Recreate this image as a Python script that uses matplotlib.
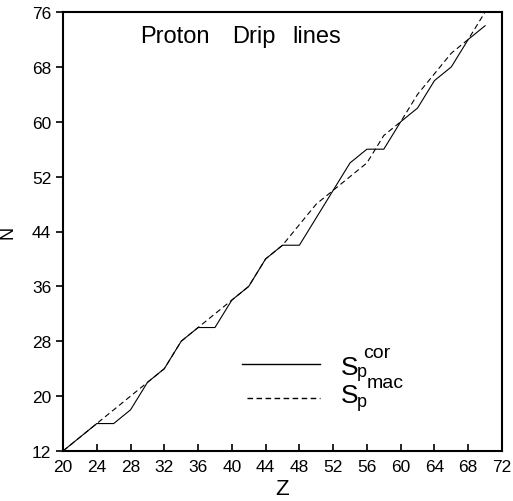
import matplotlib
matplotlib.use("Agg")
import matplotlib.pyplot as plt

# Data: proton drip lines (Z vs N)
z_cor = [20, 24, 26, 28, 30, 32, 34, 36, 38, 40, 42, 44, 46, 48, 54, 56, 58, 60, 62, 64, 66, 68, 70]
n_cor = [12, 16, 16, 18, 22, 24, 28, 30, 30, 34, 36, 40, 42, 42, 54, 56, 56, 60, 62, 66, 68, 72, 74]
z_mac = [20, 24, 30, 32, 34, 36, 40, 42, 44, 46, 48, 50, 56, 58, 60, 62, 66, 68, 70]
n_mac = [12, 16, 22, 24, 28, 30, 34, 36, 40, 42, 45, 48, 54, 58, 60, 64, 70, 72, 76]
x_ticks = list(range(20, 73, 4))
y_ticks = list(range(12, 77, 8))
title_words = ['Proton', 'Drip', 'lines']

plt.rcParams['font.family'] = ['Liberation Sans', 'DejaVu Sans']
plt.rcParams['lines.scale_dashes'] = False

W, H = 513, 502
fig = plt.figure(figsize=(W / 100, H / 100), dpi=100)
ax = fig.add_axes([63 / W, 1 - 452 / H, 439 / W, 439 / H])

ax.plot(z_cor, n_cor, color='black', lw=0.8, solid_joinstyle='miter')
ax.plot(z_mac, n_mac, color='black', lw=0.8, dashes=(4, 2.5))

ax.set_xlim(20, 72)
ax.set_ylim(12, 76)
ax.set_xticks(x_ticks)
ax.set_yticks(y_ticks)
ax.tick_params(axis='x', direction='in', length=5, width=1.2, labelsize=12.5, pad=6)
ax.tick_params(axis='y', direction='out', length=5, width=1.2, labelsize=12.5, pad=3.5)
for s in ax.spines.values():
    s.set_linewidth(1.5)

ax.set_xlabel('Z', fontsize=16)
ax.xaxis.set_label_coords(0.5, -0.062)
ax.set_ylabel('N', fontsize=13)
ax.yaxis.set_label_coords(-0.105, 0.5)

def px(x, y):
    return x / W, 1 - y / H

# title words placed inside the axes
for word, xpos in zip(title_words, [140, 232, 292]):
    fig.text(*px(xpos, 43), word, fontsize=17, ha='left', va='baseline')

# legend lines (axes coordinates)
ax.plot([0.408, 0.585], [0.198, 0.198], transform=ax.transAxes, color='black', lw=1.0)
ax.plot([0.419, 0.585], [0.121, 0.121], transform=ax.transAxes, color='black', lw=1.0,
        dashes=(4, 2.5))

# legend labels
fig.text(*px(341, 375), 'S', fontsize=19, ha='left', va='baseline')
fig.text(*px(357, 377), 'p', fontsize=13, ha='left', va='baseline')
fig.text(*px(363, 358), 'cor', fontsize=14, ha='left', va='baseline')
fig.text(*px(367, 388), 'mac', fontsize=14, ha='left', va='baseline')
fig.text(*px(341, 403), 'S', fontsize=19, ha='left', va='baseline')
fig.text(*px(357, 407), 'p', fontsize=13, ha='left', va='baseline')

fig.savefig('out.png', dpi=100)
